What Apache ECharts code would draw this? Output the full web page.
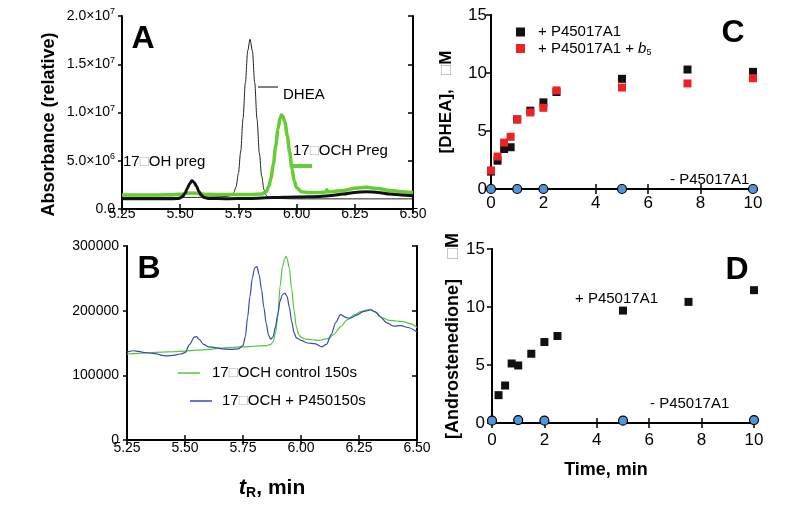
<!DOCTYPE html>
<html><head><meta charset="utf-8">
<script src="https://cdn.jsdelivr.net/npm/echarts/dist/echarts.min.js"></script>
<style>html,body{margin:0;padding:0;background:#fff}#c{width:800px;height:510px}</style>
</head><body><div id="c"></div>
<script>
// ---------- Panel A (absorbance, millions) ----------
const aDheaX = [5.25,5.40,5.55,5.65,5.70,5.72,5.73,5.74,5.75,5.76,5.77,5.78,5.79,5.80,5.81,5.82,5.83,5.84,5.85,5.86,5.87,5.88,5.90,6.00,6.20,6.50];
const aDheaY = [1.2,1.2,1.2,1.25,1.3,1.4,1.7,2.3,3.7,6.0,9.4,13.1,16.4,17.6,16.4,13.1,9.3,5.8,3.4,2.0,1.4,1.2,1.1,1.05,1.05,1.05];
const aOchX = [5.25,5.35,5.45,5.50,5.53,5.55,5.57,5.60,5.70,5.80,5.85,5.87,5.88,5.89,5.90,5.91,5.92,5.93,5.935,5.94,5.95,5.96,5.97,5.98,5.99,6.00,6.02,6.05,6.10,6.125,6.13,6.135,6.20,6.25,6.30,6.35,6.40,6.45,6.50];
const aOchY = [1.45,1.45,1.47,1.52,1.62,1.66,1.62,1.53,1.50,1.50,1.55,1.8,2.3,3.2,4.6,6.5,8.3,9.5,9.74,9.65,9.0,7.6,5.9,4.2,2.9,2.2,1.8,1.7,1.72,1.75,2.0,1.78,1.92,2.15,2.25,2.12,1.92,1.8,1.72];
const aOhX = [5.25,5.35,5.45,5.49,5.50,5.51,5.52,5.53,5.54,5.55,5.56,5.57,5.58,5.59,5.60,5.62,5.70,5.80,5.90,6.00,6.10,6.15,6.20,6.25,6.30,6.35,6.40,6.45,6.50];
const aOhY = [1.05,1.05,1.05,1.08,1.15,1.3,1.6,2.1,2.6,2.93,2.75,2.35,1.85,1.45,1.22,1.1,1.07,1.1,1.2,1.25,1.3,1.4,1.55,1.72,1.8,1.72,1.55,1.45,1.38];
const aXTicks = ['5.25','5.50','5.75','6.00','6.25','6.50'];
const aYTicks = ['{m|0.0}','{m|5.0×10}{p|6}','{m|1.0×10}{p|7}','{m|1.5×10}{p|7}','{m|2.0×10}{p|7}'];

// ---------- Panel B ----------
const bCtlX = [5.25,5.30,5.35,5.40,5.45,5.50,5.55,5.60,5.65,5.70,5.75,5.80,5.85,5.87,5.88,5.89,5.90,5.91,5.92,5.93,5.935,5.94,5.95,5.96,5.97,5.98,5.99,6.00,6.02,6.05,6.08,6.10,6.12,6.14,6.17,6.20,6.23,6.26,6.30,6.32,6.35,6.38,6.41,6.44,6.47,6.50];
const bCtlY = [133000,134000,135000,136000,136500,137500,139000,140000,142000,143000,144000,145000,146000,148000,152000,165000,190000,238000,268000,280000,284000,281000,265000,233000,200000,175000,163000,159000,156000,155000,154000,156000,157000,163000,175000,186000,194000,199000,202000,198000,189000,185000,184000,183000,180000,174000];
const bP450X = [5.25,5.28,5.30,5.33,5.36,5.38,5.40,5.42,5.45,5.48,5.50,5.52,5.54,5.55,5.56,5.58,5.60,5.63,5.66,5.70,5.73,5.75,5.76,5.77,5.78,5.79,5.80,5.81,5.82,5.83,5.84,5.85,5.86,5.87,5.88,5.89,5.90,5.91,5.92,5.93,5.94,5.95,5.96,5.97,5.98,6.00,6.03,6.06,6.09,6.11,6.13,6.15,6.17,6.19,6.21,6.24,6.27,6.30,6.32,6.34,6.37,6.40,6.43,6.46,6.50];
const bP450Y = [136000,138000,137000,135000,134000,133000,131000,130000,131000,133000,135000,148000,159000,160000,156000,148000,144000,143000,141000,140000,141000,146000,160000,190000,222000,250000,266000,268000,255000,232000,205000,180000,162000,156000,160000,175000,195000,215000,225000,227000,222000,205000,183000,166000,158000,154000,150000,149000,144000,148000,163000,182000,194000,190000,188000,193000,199000,201000,198000,191000,181000,176000,177000,174000,167000];
const bXTicks = ['5.25','5.50','5.75','6.00','6.25','6.50'];
const bYTicks = ['0','100000','200000','300000'];

// ---------- Panel C ([DHEA], µM) ----------
const cTime = [0,0.25,0.5,0.75,1,1.5,2,2.5,5,7.5,10];
const cPlus = [1.5,2.44,3.45,3.6,6.0,6.75,7.47,8.36,9.5,10.3,10.1];
const cPlusB5 = [1.6,2.8,4.0,4.5,6.0,6.6,7.0,8.5,8.75,9.1,9.55];
const cMinusTime = [0,1,2,5,10];
const cMinus = [0,0,0,0,0];

// ---------- Panel D ([Androstenedione], µM) ----------
const dTime = [0.25,0.5,0.75,1,1.5,2,2.5,5,7.5,10];
const dPlus = [2.4,3.23,5.13,4.96,5.97,6.98,7.5,9.69,10.44,11.45];
const dMinusTime = [0,1,2,5,10];
const dMinus = [0.2,0.25,0.2,0.2,0.25];
const cdXTicks = ['0','2','4','6','8','10'];
const cdYTicks = ['0','5','10','15'];

const FONT = '"Liberation Sans", Arial, sans-serif';
const pairs = (xs, ys) => xs.map((x, i) => [x, ys[i]]);
const GRAY = '#b0b0b0';

const chart = echarts.init(document.getElementById('c'), null, {renderer: 'canvas'});

const grids = [
  {left: 122, top: 16, width: 291, height: 193},
  {left: 127, top: 246, width: 290, height: 194},
  {left: 491, top: 15, width: 262, height: 174},
  {left: 492, top: 249, width: 262, height: 174}
];
const line = {show: true, lineStyle: {color: '#000', width: 2}};
function xPair(g, min, max, interval, labels, fs, margin, extra) {
  const bottom = Object.assign({
    gridIndex: g, type: 'value', min, max, interval, position: 'bottom',
    axisLine: line, splitLine: {show: false},
    axisTick: {inside: true, length: 5, lineStyle: {color: '#000', width: 1.5}},
    axisLabel: {color: '#000', fontSize: fs, fontFamily: FONT, margin,
      formatter: v => labels[Math.round((v - min) / interval)]}
  }, extra || {});
  const top = {gridIndex: g, type: 'value', min, max, interval, position: 'top',
    axisLine: line, splitLine: {show: false}, axisLabel: {show: false},
    axisTick: {inside: true, length: 5, lineStyle: {color: '#000', width: 1.5}}};
  return [bottom, top];
}
function yPair(g, min, max, interval, labels, fs, margin, extra) {
  const left = Object.assign({
    gridIndex: g, type: 'value', min, max, interval, position: 'left',
    axisLine: line, splitLine: {show: false},
    axisTick: {inside: false, length: 4, lineStyle: {color: '#000', width: 1.5}},
    axisLabel: {color: '#000', fontSize: fs, fontFamily: FONT, margin,
      formatter: v => labels[Math.round((v - min) / interval)]}
  }, extra || {});
  const right = {gridIndex: g, type: 'value', min, max, interval, position: 'right',
    axisLine: line, splitLine: {show: false}, axisLabel: {show: false},
    axisTick: {inside: true, length: 5, lineStyle: {color: '#000', width: 1.5}}};
  return [left, right];
}

const xAxes = [].concat(
  xPair(0, 5.25, 6.5, 0.25, aXTicks, 14, -2),
  xPair(1, 5.25, 6.5, 0.25, bXTicks, 14, 1, {
    name: '{t|t}{r|R}{m|, min}', nameLocation: 'middle', nameGap: 36,
    nameTextStyle: {rich: {
      t: {fontSize: 22, fontWeight: 'bold', fontStyle: 'italic', fontFamily: FONT, color: '#000'},
      r: {fontSize: 14, fontWeight: 'bold', fontFamily: FONT, color: '#000', padding: [10, 0, 0, 0]},
      m: {fontSize: 21, fontWeight: 'bold', fontFamily: FONT, color: '#000'}}}
  }),
  xPair(2, 0, 10, 2, cdXTicks, 17, 6),
  xPair(3, 0, 10, 2, cdXTicks, 17, 9, {
    name: 'Time, min', nameLocation: 'middle', nameGap: 38,
    nameTextStyle: {fontSize: 18, fontWeight: 'bold', fontFamily: FONT, color: '#000', padding: [0, 34, 0, 0]}
  })
);
const yAxes = [].concat(
  yPair(0, 0, 20, 5, aYTicks, 14, 7, {
    name: 'Absorbance (relative)', nameLocation: 'middle', nameGap: 64,
    nameTextStyle: {fontSize: 18, fontWeight: 'bold', fontFamily: FONT, color: '#000', padding: [0, 24, 0, 0]},
    axisLabel: {color: '#000', fontFamily: FONT, margin: 7,
      formatter: v => aYTicks[Math.round(v / 5)],
      rich: {m: {fontSize: 14, fontFamily: FONT, color: '#000'},
             p: {fontSize: 9, fontFamily: FONT, color: '#000', padding: [0, 0, 8, 0]}}}
  }),
  yPair(1, 0, 300000, 100000, bYTicks, 14, 8),
  yPair(2, 0, 15, 5, cdYTicks, 17, 4, {
    name: '[DHEA],   {g|□}M', nameLocation: 'middle', nameGap: 36,
    nameTextStyle: {fontSize: 17, fontWeight: 'bold', fontFamily: FONT, color: '#000',
      rich: {g: {fontSize: 17, color: GRAY, fontFamily: FONT}}}
  }),
  yPair(3, 0, 15, 5, cdYTicks, 17, 7, {
    name: '[Androstenedione]    {g|□}M', nameLocation: 'middle', nameGap: 30,
    nameTextStyle: {fontSize: 18, fontWeight: 'bold', fontFamily: FONT, color: '#000',
      rich: {g: {fontSize: 18, color: GRAY, fontFamily: FONT}}}
  })
);

const lineSeries = (name, xi, yi, data, color, width, z) => ({
  name, type: 'line', xAxisIndex: xi, yAxisIndex: yi, data, showSymbol: false, symbol: 'none',
  smooth: 0.3, smoothMonotone: 'x', lineStyle: {color, width}, z, silent: true
});
const sq = (name, xi, yi, data, color, z) => ({
  name, type: 'scatter', xAxisIndex: xi, yAxisIndex: yi, data, symbol: 'rect', symbolSize: 8,
  itemStyle: {color, opacity: 1}, z, clip: false
});
const circ = (name, xi, yi, data) => ({
  name, type: 'scatter', xAxisIndex: xi, yAxisIndex: yi, data, symbol: 'circle', symbolSize: 9,
  itemStyle: {color: '#4f95d8', borderColor: '#000', borderWidth: 1.2, opacity: 1}, z: 5, clip: false
});

const textEl = (x, y, text, opts) => ({
  type: 'text', left: x, top: y, z: 50,
  style: Object.assign({text, fill: '#000', font: '15px ' + FONT, textVerticalAlign: 'middle'}, opts || {})
});
const bigLetter = (x, y, t) => ({type: 'text', x, y, z: 50,
  style: {text: t, fill: '#000', font: 'bold 32px "Liberation Sans", Arial, sans-serif', textAlign: 'center', textVerticalAlign: 'middle'}});
const seg = (x1, y1, x2, y2, color, w) => ({type: 'line', z: 50,
  shape: {x1, y1, x2, y2}, style: {stroke: color, lineWidth: w}});
const richText = (x, y, parts) => ({type: 'text', x, y, z: 50,
  style: {rich: {
    n: {fill: '#000', font: '15px ' + FONT},
    g: {fill: GRAY, font: '15px ' + FONT}}, text: parts, verticalAlign: 'middle', textVerticalAlign: 'middle'}});

chart.setOption({
  animation: false,
  grid: grids,
  xAxis: xAxes,
  yAxis: yAxes,
  legend: {
    data: ['+ P45017A1', '+ P45017A1 + b5'], orient: 'vertical', left: 511, top: 19,
    icon: 'rect', itemWidth: 9, itemHeight: 9, itemGap: 0, selectedMode: false,
    textStyle: {fontSize: 15, fontFamily: FONT, color: '#000', padding: [0, 0, 0, 8], lineHeight: 16,
      rich: {n: {fontSize: 15, fontFamily: FONT, color: '#000', lineHeight: 16},
             i: {fontSize: 15, fontFamily: FONT, fontStyle: 'italic', color: '#000', lineHeight: 16},
             s: {fontSize: 9, fontFamily: FONT, color: '#000', padding: [8, 0, 0, 0], lineHeight: 16}}},
    formatter: n => n === '+ P45017A1 + b5' ? '{n|+ P45017A1 + }{i|b}{s|5}' : '{n|' + n + '}'
  },
  series: [
    lineSeries('DHEA', 0, 0, pairs(aDheaX, aDheaY), '#222', 1, 2),
    lineSeries('17α-OCH Preg', 0, 0, pairs(aOchX, aOchY), '#66cc33', 3.5, 3),
    lineSeries('17α-OH preg', 0, 0, pairs(aOhX, aOhY), '#111', 3, 4),
    lineSeries('17α-OCH control 150s', 2, 2, pairs(bCtlX, bCtlY), '#4cc93a', 1.2, 3),
    lineSeries('17α-OCH + P450 150s', 2, 2, pairs(bP450X, bP450Y), '#3a48b5', 1.2, 4),
    sq('+ P45017A1', 4, 4, pairs(cTime, cPlus), '#111', 3),
    sq('+ P45017A1 + b5', 4, 4, pairs(cTime, cPlusB5), '#ee2222', 4),
    circ('- P45017A1', 4, 4, pairs(cMinusTime, cMinus)),
    sq('Androstenedione + P45017A1', 6, 6, pairs(dTime, dPlus), '#111', 3),
    circ('Androstenedione - P45017A1', 6, 6, pairs(dMinusTime, dMinus))
  ],
  graphic: [
    bigLetter(143, 39, 'A'), bigLetter(149, 269, 'B'), bigLetter(733, 33, 'C'), bigLetter(737, 270, 'D'),
    seg(258, 87, 278, 87, '#000', 1),
    textEl(283, 87, 'DHEA'),
    richText(123, 162, '{n|17}{g|□}{n|OH preg}'),
    richText(293, 151, '{n|17}{g|□}{n|OCH Preg}'),
    seg(293, 166, 312, 166, '#66cc33', 4),
    seg(178, 373, 200, 373, '#4cc93a', 1.5),
    richText(212, 373, '{n|17}{g|□}{n|OCH control 150s}'),
    seg(190, 401, 212, 401, '#3a48b5', 1.5),
    richText(222, 401, '{n|17}{g|□}{n|OCH + P450150s}'),
    textEl(670, 172, '- P45017A1'),
    textEl(575, 291, '+ P45017A1'),
    textEl(650, 396, '- P45017A1')
  ]
});
</script></body></html>
